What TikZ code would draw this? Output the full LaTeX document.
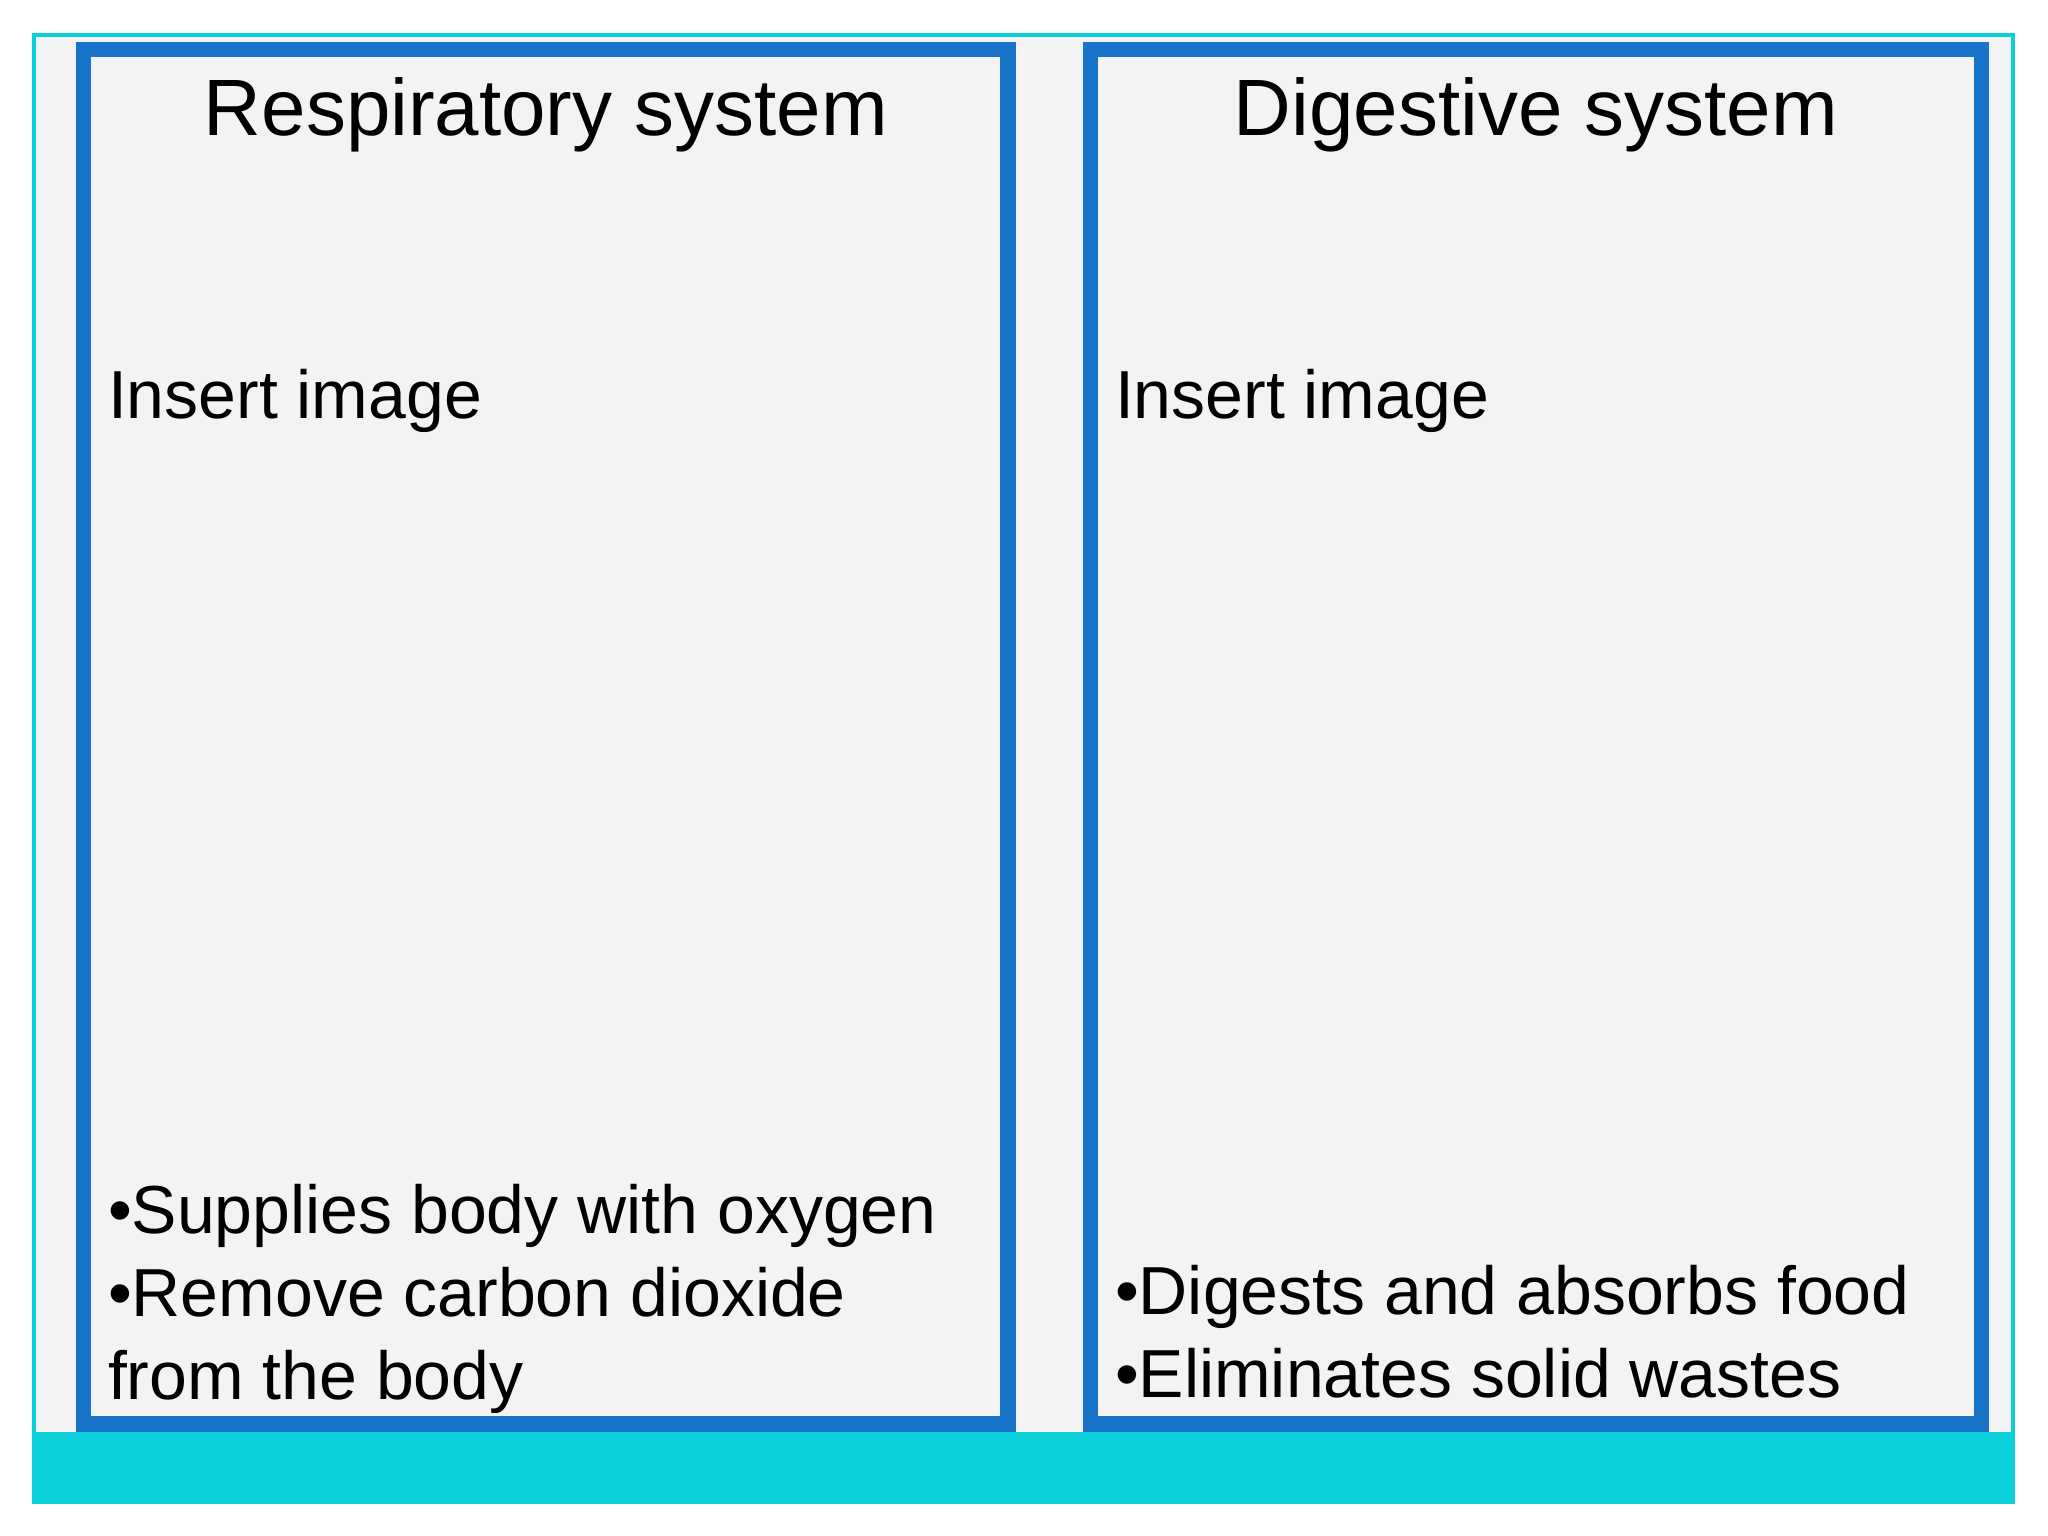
\documentclass[tikz,border=0pt]{standalone}
\usepackage{fontspec}
\setmainfont{Liberation Sans}
\definecolor{bg}{HTML}{F3F3F5}
\definecolor{cy}{HTML}{0BCFD9}
\definecolor{bl}{HTML}{1874C8}
\begin{document}
\begin{tikzpicture}[x=0.01cm,y=-0.01cm,
  panel/.style={draw=bl,line width=1.2mm},
  title/.style={font=\fontsize{17.4}{20}\selectfont,anchor=center},
  body/.style={font=\fontsize{14.8}{17.6}\selectfont,anchor=north west,align=left,inner sep=0pt}]
\useasboundingbox (0,0) rectangle (1568,1176);
\fill[white] (0,0) rectangle (1568,1176);
\fill[bg] (26,27) rectangle (1541,1150);
\fill[cy] (26,1096) rectangle (1541,1150);
\draw[cy,line width=0.3mm] (26,27) rectangle (1541,1150);
\draw[panel] (64,38) rectangle (772,1090);
\draw[panel] (835,38) rectangle (1517,1090);
\node[title] (t1) at (418,88) {Respiratory system};
\node[title] (t2) at (1176,88) {Digestive system};
\node[body] (i1) at (82,282) {Insert image};
\node[body] (i2) at (853,282) {Insert image};
\node[body] (b1) at (82,906) {\textbullet Supplies body with oxygen\\[0.5pt]\textbullet Remove carbon dioxide\\[0.5pt]from the body};
\node[body] (b2) at (853,968) {\textbullet Digests and absorbs food\\[0.5pt]\textbullet Eliminates solid wastes};
\end{tikzpicture}
\end{document}
